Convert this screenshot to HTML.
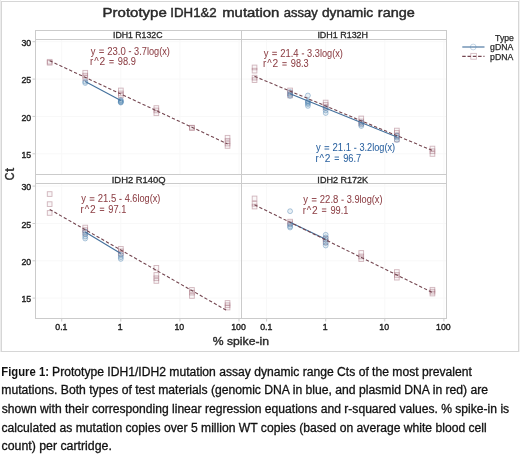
<!DOCTYPE html><html><head><meta charset="utf-8"><style>html,body{margin:0;padding:0;background:#fff;width:520px;height:456px;overflow:hidden}svg{display:block;will-change:transform}text{font-family:"Liberation Sans",sans-serif}</style></head><body>
<svg width="520" height="456" viewBox="0 0 520 456">
<rect x="0" y="0" width="520" height="456" fill="#fff"/>
<rect x="0" y="0" width="1" height="352" fill="#ececec"/><rect x="519" y="0" width="1" height="352" fill="#f2f2f2"/>
<rect x="1.5" y="1.5" width="517" height="350" fill="none" stroke="#d6d6d6" stroke-width="1"/>
<text x="102.60" y="16.80" font-size="13.2" fill="#2a2a2a" textLength="64.20" lengthAdjust="spacingAndGlyphs" stroke="#2a2a2a" stroke-width="0.45">Prototype</text>
<text x="170.31" y="16.80" font-size="13.2" fill="#2a2a2a" textLength="46.44" lengthAdjust="spacingAndGlyphs" stroke="#2a2a2a" stroke-width="0.45">IDH1&amp;2</text>
<text x="222.21" y="16.80" font-size="13.2" fill="#2a2a2a" textLength="57.11" lengthAdjust="spacingAndGlyphs" stroke="#2a2a2a" stroke-width="0.45">mutation</text>
<text x="283.78" y="16.80" font-size="13.2" fill="#2a2a2a" textLength="33.95" lengthAdjust="spacingAndGlyphs" stroke="#2a2a2a" stroke-width="0.45">assay</text>
<text x="321.95" y="16.80" font-size="13.2" fill="#2a2a2a" textLength="51.27" lengthAdjust="spacingAndGlyphs" stroke="#2a2a2a" stroke-width="0.45">dynamic</text>
<text x="377.83" y="16.80" font-size="13.2" fill="#2a2a2a" textLength="36.90" lengthAdjust="spacingAndGlyphs" stroke="#2a2a2a" stroke-width="0.45">range</text>
<line x1="61.7" y1="39.5" x2="61.7" y2="174.5" stroke="#f8f8f8" stroke-width="1"/>
<line x1="120.8" y1="39.5" x2="120.8" y2="174.5" stroke="#f8f8f8" stroke-width="1"/>
<line x1="179.9" y1="39.5" x2="179.9" y2="174.5" stroke="#f8f8f8" stroke-width="1"/>
<line x1="239.0" y1="39.5" x2="239.0" y2="174.5" stroke="#f8f8f8" stroke-width="1"/>
<line x1="35.5" y1="41.7" x2="241.5" y2="41.7" stroke="#f8f8f8" stroke-width="1"/>
<line x1="35.5" y1="79.1" x2="241.5" y2="79.1" stroke="#f8f8f8" stroke-width="1"/>
<line x1="35.5" y1="116.4" x2="241.5" y2="116.4" stroke="#f8f8f8" stroke-width="1"/>
<line x1="35.5" y1="153.8" x2="241.5" y2="153.8" stroke="#f8f8f8" stroke-width="1"/>
<line x1="61.7" y1="183.5" x2="61.7" y2="318.5" stroke="#f8f8f8" stroke-width="1"/>
<line x1="120.8" y1="183.5" x2="120.8" y2="318.5" stroke="#f8f8f8" stroke-width="1"/>
<line x1="179.9" y1="183.5" x2="179.9" y2="318.5" stroke="#f8f8f8" stroke-width="1"/>
<line x1="239.0" y1="183.5" x2="239.0" y2="318.5" stroke="#f8f8f8" stroke-width="1"/>
<line x1="35.5" y1="186.1" x2="241.5" y2="186.1" stroke="#f8f8f8" stroke-width="1"/>
<line x1="35.5" y1="223.5" x2="241.5" y2="223.5" stroke="#f8f8f8" stroke-width="1"/>
<line x1="35.5" y1="260.8" x2="241.5" y2="260.8" stroke="#f8f8f8" stroke-width="1"/>
<line x1="35.5" y1="298.1" x2="241.5" y2="298.1" stroke="#f8f8f8" stroke-width="1"/>
<line x1="266.6" y1="39.5" x2="266.6" y2="174.5" stroke="#f8f8f8" stroke-width="1"/>
<line x1="325.7" y1="39.5" x2="325.7" y2="174.5" stroke="#f8f8f8" stroke-width="1"/>
<line x1="384.8" y1="39.5" x2="384.8" y2="174.5" stroke="#f8f8f8" stroke-width="1"/>
<line x1="443.9" y1="39.5" x2="443.9" y2="174.5" stroke="#f8f8f8" stroke-width="1"/>
<line x1="241.5" y1="41.7" x2="446.5" y2="41.7" stroke="#f8f8f8" stroke-width="1"/>
<line x1="241.5" y1="79.1" x2="446.5" y2="79.1" stroke="#f8f8f8" stroke-width="1"/>
<line x1="241.5" y1="116.4" x2="446.5" y2="116.4" stroke="#f8f8f8" stroke-width="1"/>
<line x1="241.5" y1="153.8" x2="446.5" y2="153.8" stroke="#f8f8f8" stroke-width="1"/>
<line x1="266.6" y1="183.5" x2="266.6" y2="318.5" stroke="#f8f8f8" stroke-width="1"/>
<line x1="325.7" y1="183.5" x2="325.7" y2="318.5" stroke="#f8f8f8" stroke-width="1"/>
<line x1="384.8" y1="183.5" x2="384.8" y2="318.5" stroke="#f8f8f8" stroke-width="1"/>
<line x1="443.9" y1="183.5" x2="443.9" y2="318.5" stroke="#f8f8f8" stroke-width="1"/>
<line x1="241.5" y1="186.1" x2="446.5" y2="186.1" stroke="#f8f8f8" stroke-width="1"/>
<line x1="241.5" y1="223.5" x2="446.5" y2="223.5" stroke="#f8f8f8" stroke-width="1"/>
<line x1="241.5" y1="260.8" x2="446.5" y2="260.8" stroke="#f8f8f8" stroke-width="1"/>
<line x1="241.5" y1="298.1" x2="446.5" y2="298.1" stroke="#f8f8f8" stroke-width="1"/>
<rect x="35.5" y="30.5" width="411.0" height="288.0" fill="none" stroke="#cbcbcb" stroke-width="1"/>
<line x1="241.5" y1="30.5" x2="241.5" y2="318.5" stroke="#cbcbcb" stroke-width="1"/>
<line x1="35.5" y1="174.5" x2="446.5" y2="174.5" stroke="#cbcbcb" stroke-width="1"/>
<line x1="35.5" y1="39.5" x2="446.5" y2="39.5" stroke="#cbcbcb" stroke-width="1"/>
<line x1="35.5" y1="183.5" x2="446.5" y2="183.5" stroke="#cbcbcb" stroke-width="1"/>
<text x="113.02" y="38.20" font-size="8.5" fill="#2a2a2a" textLength="49.44" lengthAdjust="spacingAndGlyphs" stroke="#2a2a2a" stroke-width="0.3">IDH1 R132C</text>
<text x="317.40" y="38.20" font-size="8.5" fill="#2a2a2a" textLength="50.62" lengthAdjust="spacingAndGlyphs" stroke="#2a2a2a" stroke-width="0.3">IDH1 R132H</text>
<text x="111.75" y="182.60" font-size="8.5" fill="#2a2a2a" textLength="53.76" lengthAdjust="spacingAndGlyphs" stroke="#2a2a2a" stroke-width="0.3">IDH2 R140Q</text>
<text x="317.39" y="182.60" font-size="8.5" fill="#2a2a2a" textLength="50.75" lengthAdjust="spacingAndGlyphs" stroke="#2a2a2a" stroke-width="0.3">IDH2 R172K</text>
<line x1="32.5" y1="41.7" x2="35.5" y2="41.7" stroke="#cbcbcb" stroke-width="1"/>
<text x="21.44" y="45.80" font-size="9.4" fill="#222" textLength="9.74" lengthAdjust="spacingAndGlyphs" stroke="#222" stroke-width="0.4">30</text>
<line x1="32.5" y1="79.1" x2="35.5" y2="79.1" stroke="#cbcbcb" stroke-width="1"/>
<text x="21.44" y="83.15" font-size="9.4" fill="#222" textLength="9.74" lengthAdjust="spacingAndGlyphs" stroke="#222" stroke-width="0.4">25</text>
<line x1="32.5" y1="116.4" x2="35.5" y2="116.4" stroke="#cbcbcb" stroke-width="1"/>
<text x="21.44" y="120.50" font-size="9.4" fill="#222" textLength="9.74" lengthAdjust="spacingAndGlyphs" stroke="#222" stroke-width="0.4">20</text>
<line x1="32.5" y1="153.8" x2="35.5" y2="153.8" stroke="#cbcbcb" stroke-width="1"/>
<text x="21.44" y="157.85" font-size="9.4" fill="#222" textLength="9.74" lengthAdjust="spacingAndGlyphs" stroke="#222" stroke-width="0.4">15</text>
<line x1="32.5" y1="186.1" x2="35.5" y2="186.1" stroke="#cbcbcb" stroke-width="1"/>
<text x="21.44" y="190.20" font-size="9.4" fill="#222" textLength="9.74" lengthAdjust="spacingAndGlyphs" stroke="#222" stroke-width="0.4">30</text>
<line x1="32.5" y1="223.5" x2="35.5" y2="223.5" stroke="#cbcbcb" stroke-width="1"/>
<text x="21.44" y="227.55" font-size="9.4" fill="#222" textLength="9.74" lengthAdjust="spacingAndGlyphs" stroke="#222" stroke-width="0.4">25</text>
<line x1="32.5" y1="260.8" x2="35.5" y2="260.8" stroke="#cbcbcb" stroke-width="1"/>
<text x="21.44" y="264.90" font-size="9.4" fill="#222" textLength="9.74" lengthAdjust="spacingAndGlyphs" stroke="#222" stroke-width="0.4">20</text>
<line x1="32.5" y1="298.1" x2="35.5" y2="298.1" stroke="#cbcbcb" stroke-width="1"/>
<text x="21.44" y="302.25" font-size="9.4" fill="#222" textLength="9.74" lengthAdjust="spacingAndGlyphs" stroke="#222" stroke-width="0.4">15</text>
<line x1="61.7" y1="318.5" x2="61.7" y2="321.5" stroke="#cbcbcb" stroke-width="1"/>
<text x="55.30" y="330.20" font-size="9.4" fill="#222" textLength="12.18" lengthAdjust="spacingAndGlyphs" stroke="#222" stroke-width="0.4">0.1</text>
<line x1="120.8" y1="318.5" x2="120.8" y2="321.5" stroke="#cbcbcb" stroke-width="1"/>
<text x="117.86" y="330.20" font-size="9.4" fill="#222" textLength="4.87" lengthAdjust="spacingAndGlyphs" stroke="#222" stroke-width="0.4">1</text>
<line x1="179.9" y1="318.5" x2="179.9" y2="321.5" stroke="#cbcbcb" stroke-width="1"/>
<text x="174.46" y="330.20" font-size="9.4" fill="#222" textLength="9.74" lengthAdjust="spacingAndGlyphs" stroke="#222" stroke-width="0.4">10</text>
<line x1="239.0" y1="318.5" x2="239.0" y2="321.5" stroke="#cbcbcb" stroke-width="1"/>
<text x="231.15" y="330.20" font-size="9.4" fill="#222" textLength="14.62" lengthAdjust="spacingAndGlyphs" stroke="#222" stroke-width="0.4">100</text>
<line x1="266.6" y1="318.5" x2="266.6" y2="321.5" stroke="#cbcbcb" stroke-width="1"/>
<text x="260.20" y="330.20" font-size="9.4" fill="#222" textLength="12.18" lengthAdjust="spacingAndGlyphs" stroke="#222" stroke-width="0.4">0.1</text>
<line x1="325.7" y1="318.5" x2="325.7" y2="321.5" stroke="#cbcbcb" stroke-width="1"/>
<text x="322.76" y="330.20" font-size="9.4" fill="#222" textLength="4.87" lengthAdjust="spacingAndGlyphs" stroke="#222" stroke-width="0.4">1</text>
<line x1="384.8" y1="318.5" x2="384.8" y2="321.5" stroke="#cbcbcb" stroke-width="1"/>
<text x="379.36" y="330.20" font-size="9.4" fill="#222" textLength="9.74" lengthAdjust="spacingAndGlyphs" stroke="#222" stroke-width="0.4">10</text>
<line x1="443.9" y1="318.5" x2="443.9" y2="321.5" stroke="#cbcbcb" stroke-width="1"/>
<text x="436.05" y="330.20" font-size="9.4" fill="#222" textLength="14.62" lengthAdjust="spacingAndGlyphs" stroke="#222" stroke-width="0.4">100</text>
<text x="212.84" y="345.20" font-size="11.8" fill="#2a2a2a" textLength="56.11" lengthAdjust="spacingAndGlyphs" stroke="#2a2a2a" stroke-width="0.4">% spike-in</text>
<text transform="translate(14.10,180.24) rotate(-90)" font-size="12" fill="#2a2a2a" textLength="7.79" lengthAdjust="spacingAndGlyphs" stroke="#2a2a2a" stroke-width="0.4">C</text>
<text transform="translate(14.10,172.05) rotate(-90)" font-size="12" fill="#2a2a2a" textLength="4.12" lengthAdjust="spacingAndGlyphs" stroke="#2a2a2a" stroke-width="0.4">t</text>
<text x="495.13" y="40.60" font-size="8.4" fill="#2a2a2a" textLength="18.80" lengthAdjust="spacingAndGlyphs" stroke="#2a2a2a" stroke-width="0.25">Type</text>
<text x="490.05" y="50.10" font-size="8.4" fill="#2a2a2a" textLength="23.23" lengthAdjust="spacingAndGlyphs" stroke="#2a2a2a" stroke-width="0.25">gDNA</text>
<text x="490.08" y="59.50" font-size="8.4" fill="#2a2a2a" textLength="23.20" lengthAdjust="spacingAndGlyphs" stroke="#2a2a2a" stroke-width="0.25">pDNA</text>
<line x1="462.3" y1="47" x2="484.5" y2="47" stroke="#4f7aa3" stroke-width="1.2"/>
<circle cx="473.2" cy="47" r="2.9" fill="none" stroke="#4a80b0" stroke-opacity="0.35" stroke-width="0.9"/>
<line x1="462.2" y1="56.4" x2="484.5" y2="56.4" stroke="#744650" stroke-width="1.2" stroke-dasharray="3.5 1.8"/>
<rect x="470.8" y="53.4" width="5.6" height="5.8" fill="none" stroke="#a06878" stroke-opacity="0.45" stroke-width="0.9"/>
<rect x="47.3" y="59.4" width="4.7" height="4.7" fill="#a06878" fill-opacity="0.05" stroke="#a06878" stroke-opacity="0.48" stroke-width="0.9"/>
<rect x="47.3" y="60.4" width="4.7" height="4.7" fill="#a06878" fill-opacity="0.05" stroke="#a06878" stroke-opacity="0.48" stroke-width="0.9"/>
<rect x="82.9" y="70.4" width="4.7" height="4.7" fill="#a06878" fill-opacity="0.05" stroke="#a06878" stroke-opacity="0.48" stroke-width="0.9"/>
<rect x="82.9" y="73.3" width="4.7" height="4.7" fill="#a06878" fill-opacity="0.05" stroke="#a06878" stroke-opacity="0.48" stroke-width="0.9"/>
<rect x="82.9" y="75.7" width="4.7" height="4.7" fill="#a06878" fill-opacity="0.05" stroke="#a06878" stroke-opacity="0.48" stroke-width="0.9"/>
<rect x="118.5" y="88.1" width="4.7" height="4.7" fill="#a06878" fill-opacity="0.05" stroke="#a06878" stroke-opacity="0.48" stroke-width="0.9"/>
<rect x="118.5" y="91.1" width="4.7" height="4.7" fill="#a06878" fill-opacity="0.05" stroke="#a06878" stroke-opacity="0.48" stroke-width="0.9"/>
<rect x="118.5" y="93.1" width="4.7" height="4.7" fill="#a06878" fill-opacity="0.05" stroke="#a06878" stroke-opacity="0.48" stroke-width="0.9"/>
<rect x="154.0" y="105.7" width="4.7" height="4.7" fill="#a06878" fill-opacity="0.05" stroke="#a06878" stroke-opacity="0.48" stroke-width="0.9"/>
<rect x="154.0" y="108.1" width="4.7" height="4.7" fill="#a06878" fill-opacity="0.05" stroke="#a06878" stroke-opacity="0.48" stroke-width="0.9"/>
<rect x="154.0" y="110.9" width="4.7" height="4.7" fill="#a06878" fill-opacity="0.05" stroke="#a06878" stroke-opacity="0.48" stroke-width="0.9"/>
<rect x="189.6" y="125.3" width="4.7" height="4.7" fill="#a06878" fill-opacity="0.05" stroke="#a06878" stroke-opacity="0.48" stroke-width="0.9"/>
<rect x="189.6" y="125.6" width="4.7" height="4.7" fill="#a06878" fill-opacity="0.05" stroke="#a06878" stroke-opacity="0.48" stroke-width="0.9"/>
<rect x="225.2" y="135.4" width="4.7" height="4.7" fill="#a06878" fill-opacity="0.05" stroke="#a06878" stroke-opacity="0.48" stroke-width="0.9"/>
<rect x="225.2" y="138.6" width="4.7" height="4.7" fill="#a06878" fill-opacity="0.05" stroke="#a06878" stroke-opacity="0.48" stroke-width="0.9"/>
<rect x="225.2" y="141.2" width="4.7" height="4.7" fill="#a06878" fill-opacity="0.05" stroke="#a06878" stroke-opacity="0.48" stroke-width="0.9"/>
<rect x="225.2" y="143.6" width="4.7" height="4.7" fill="#a06878" fill-opacity="0.05" stroke="#a06878" stroke-opacity="0.48" stroke-width="0.9"/>
<circle cx="85.2" cy="81.6" r="2.45" fill="#4a80b0" fill-opacity="0.12" stroke="#4a80b0" stroke-opacity="0.48" stroke-width="0.9"/>
<circle cx="85.2" cy="83.0" r="2.45" fill="#4a80b0" fill-opacity="0.12" stroke="#4a80b0" stroke-opacity="0.48" stroke-width="0.9"/>
<circle cx="120.8" cy="100.0" r="2.45" fill="#4a80b0" fill-opacity="0.12" stroke="#4a80b0" stroke-opacity="0.48" stroke-width="0.9"/>
<circle cx="120.8" cy="100.9" r="2.45" fill="#4a80b0" fill-opacity="0.12" stroke="#4a80b0" stroke-opacity="0.48" stroke-width="0.9"/>
<circle cx="120.8" cy="101.6" r="2.45" fill="#4a80b0" fill-opacity="0.12" stroke="#4a80b0" stroke-opacity="0.48" stroke-width="0.9"/>
<circle cx="120.8" cy="102.2" r="2.45" fill="#4a80b0" fill-opacity="0.12" stroke="#4a80b0" stroke-opacity="0.48" stroke-width="0.9"/>
<circle cx="120.8" cy="102.6" r="2.45" fill="#4a80b0" fill-opacity="0.12" stroke="#4a80b0" stroke-opacity="0.48" stroke-width="0.9"/>
<line x1="85.2" y1="81.5" x2="120.8" y2="100.5" stroke="#43709c" stroke-width="1.1"/>
<line x1="49.6" y1="60.7" x2="227.5" y2="143.9" stroke="#744650" stroke-width="1.1" stroke-dasharray="3.3 2.1"/>
<rect x="252.2" y="65.1" width="4.7" height="4.7" fill="#a06878" fill-opacity="0.05" stroke="#a06878" stroke-opacity="0.48" stroke-width="0.9"/>
<rect x="252.2" y="68.3" width="4.7" height="4.7" fill="#a06878" fill-opacity="0.05" stroke="#a06878" stroke-opacity="0.48" stroke-width="0.9"/>
<rect x="252.2" y="75.3" width="4.7" height="4.7" fill="#a06878" fill-opacity="0.05" stroke="#a06878" stroke-opacity="0.48" stroke-width="0.9"/>
<rect x="252.2" y="77.8" width="4.7" height="4.7" fill="#a06878" fill-opacity="0.05" stroke="#a06878" stroke-opacity="0.48" stroke-width="0.9"/>
<rect x="287.8" y="88.1" width="4.7" height="4.7" fill="#a06878" fill-opacity="0.05" stroke="#a06878" stroke-opacity="0.48" stroke-width="0.9"/>
<rect x="287.8" y="90.7" width="4.7" height="4.7" fill="#a06878" fill-opacity="0.05" stroke="#a06878" stroke-opacity="0.48" stroke-width="0.9"/>
<rect x="287.8" y="93.1" width="4.7" height="4.7" fill="#a06878" fill-opacity="0.05" stroke="#a06878" stroke-opacity="0.48" stroke-width="0.9"/>
<rect x="323.3" y="100.2" width="4.7" height="4.7" fill="#a06878" fill-opacity="0.05" stroke="#a06878" stroke-opacity="0.48" stroke-width="0.9"/>
<rect x="323.3" y="102.6" width="4.7" height="4.7" fill="#a06878" fill-opacity="0.05" stroke="#a06878" stroke-opacity="0.48" stroke-width="0.9"/>
<rect x="323.3" y="105.1" width="4.7" height="4.7" fill="#a06878" fill-opacity="0.05" stroke="#a06878" stroke-opacity="0.48" stroke-width="0.9"/>
<rect x="358.9" y="116.1" width="4.7" height="4.7" fill="#a06878" fill-opacity="0.05" stroke="#a06878" stroke-opacity="0.48" stroke-width="0.9"/>
<rect x="358.9" y="119.1" width="4.7" height="4.7" fill="#a06878" fill-opacity="0.05" stroke="#a06878" stroke-opacity="0.48" stroke-width="0.9"/>
<rect x="358.9" y="121.1" width="4.7" height="4.7" fill="#a06878" fill-opacity="0.05" stroke="#a06878" stroke-opacity="0.48" stroke-width="0.9"/>
<rect x="394.5" y="128.2" width="4.7" height="4.7" fill="#a06878" fill-opacity="0.05" stroke="#a06878" stroke-opacity="0.48" stroke-width="0.9"/>
<rect x="394.5" y="130.6" width="4.7" height="4.7" fill="#a06878" fill-opacity="0.05" stroke="#a06878" stroke-opacity="0.48" stroke-width="0.9"/>
<rect x="394.5" y="133.6" width="4.7" height="4.7" fill="#a06878" fill-opacity="0.05" stroke="#a06878" stroke-opacity="0.48" stroke-width="0.9"/>
<rect x="394.5" y="137.1" width="4.7" height="4.7" fill="#a06878" fill-opacity="0.05" stroke="#a06878" stroke-opacity="0.48" stroke-width="0.9"/>
<rect x="430.1" y="146.2" width="4.7" height="4.7" fill="#a06878" fill-opacity="0.05" stroke="#a06878" stroke-opacity="0.48" stroke-width="0.9"/>
<rect x="430.1" y="148.9" width="4.7" height="4.7" fill="#a06878" fill-opacity="0.05" stroke="#a06878" stroke-opacity="0.48" stroke-width="0.9"/>
<rect x="430.1" y="151.6" width="4.7" height="4.7" fill="#a06878" fill-opacity="0.05" stroke="#a06878" stroke-opacity="0.48" stroke-width="0.9"/>
<circle cx="290.1" cy="92.0" r="2.45" fill="#4a80b0" fill-opacity="0.12" stroke="#4a80b0" stroke-opacity="0.48" stroke-width="0.9"/>
<circle cx="290.1" cy="94.5" r="2.45" fill="#4a80b0" fill-opacity="0.12" stroke="#4a80b0" stroke-opacity="0.48" stroke-width="0.9"/>
<circle cx="290.1" cy="96.0" r="2.45" fill="#4a80b0" fill-opacity="0.12" stroke="#4a80b0" stroke-opacity="0.48" stroke-width="0.9"/>
<circle cx="307.9" cy="95.5" r="2.45" fill="#4a80b0" fill-opacity="0.12" stroke="#4a80b0" stroke-opacity="0.48" stroke-width="0.9"/>
<circle cx="307.9" cy="101.0" r="2.45" fill="#4a80b0" fill-opacity="0.12" stroke="#4a80b0" stroke-opacity="0.48" stroke-width="0.9"/>
<circle cx="307.9" cy="101.8" r="2.45" fill="#4a80b0" fill-opacity="0.12" stroke="#4a80b0" stroke-opacity="0.48" stroke-width="0.9"/>
<circle cx="307.9" cy="103.0" r="2.45" fill="#4a80b0" fill-opacity="0.12" stroke="#4a80b0" stroke-opacity="0.48" stroke-width="0.9"/>
<circle cx="307.9" cy="104.1" r="2.45" fill="#4a80b0" fill-opacity="0.12" stroke="#4a80b0" stroke-opacity="0.48" stroke-width="0.9"/>
<circle cx="307.9" cy="105.9" r="2.45" fill="#4a80b0" fill-opacity="0.12" stroke="#4a80b0" stroke-opacity="0.48" stroke-width="0.9"/>
<circle cx="325.7" cy="108.0" r="2.45" fill="#4a80b0" fill-opacity="0.12" stroke="#4a80b0" stroke-opacity="0.48" stroke-width="0.9"/>
<circle cx="325.7" cy="110.4" r="2.45" fill="#4a80b0" fill-opacity="0.12" stroke="#4a80b0" stroke-opacity="0.48" stroke-width="0.9"/>
<circle cx="325.7" cy="113.0" r="2.45" fill="#4a80b0" fill-opacity="0.12" stroke="#4a80b0" stroke-opacity="0.48" stroke-width="0.9"/>
<circle cx="361.3" cy="122.5" r="2.45" fill="#4a80b0" fill-opacity="0.12" stroke="#4a80b0" stroke-opacity="0.48" stroke-width="0.9"/>
<circle cx="361.3" cy="124.5" r="2.45" fill="#4a80b0" fill-opacity="0.12" stroke="#4a80b0" stroke-opacity="0.48" stroke-width="0.9"/>
<circle cx="361.3" cy="126.0" r="2.45" fill="#4a80b0" fill-opacity="0.12" stroke="#4a80b0" stroke-opacity="0.48" stroke-width="0.9"/>
<circle cx="396.9" cy="135.5" r="2.45" fill="#4a80b0" fill-opacity="0.12" stroke="#4a80b0" stroke-opacity="0.48" stroke-width="0.9"/>
<circle cx="396.9" cy="137.5" r="2.45" fill="#4a80b0" fill-opacity="0.12" stroke="#4a80b0" stroke-opacity="0.48" stroke-width="0.9"/>
<circle cx="396.9" cy="140.0" r="2.45" fill="#4a80b0" fill-opacity="0.12" stroke="#4a80b0" stroke-opacity="0.48" stroke-width="0.9"/>
<line x1="290.1" y1="93.8" x2="396.9" y2="136.9" stroke="#43709c" stroke-width="1.1"/>
<line x1="254.5" y1="76.3" x2="432.4" y2="150.5" stroke="#744650" stroke-width="1.1" stroke-dasharray="3.3 2.1"/>
<rect x="47.3" y="191.7" width="4.7" height="4.7" fill="#a06878" fill-opacity="0.05" stroke="#a06878" stroke-opacity="0.48" stroke-width="0.9"/>
<rect x="47.3" y="201.8" width="4.7" height="4.7" fill="#a06878" fill-opacity="0.05" stroke="#a06878" stroke-opacity="0.48" stroke-width="0.9"/>
<rect x="47.3" y="210.6" width="4.7" height="4.7" fill="#a06878" fill-opacity="0.05" stroke="#a06878" stroke-opacity="0.48" stroke-width="0.9"/>
<rect x="82.9" y="225.2" width="4.7" height="4.7" fill="#a06878" fill-opacity="0.05" stroke="#a06878" stroke-opacity="0.48" stroke-width="0.9"/>
<rect x="82.9" y="227.8" width="4.7" height="4.7" fill="#a06878" fill-opacity="0.05" stroke="#a06878" stroke-opacity="0.48" stroke-width="0.9"/>
<rect x="82.9" y="230.4" width="4.7" height="4.7" fill="#a06878" fill-opacity="0.05" stroke="#a06878" stroke-opacity="0.48" stroke-width="0.9"/>
<rect x="118.5" y="246.5" width="4.7" height="4.7" fill="#a06878" fill-opacity="0.05" stroke="#a06878" stroke-opacity="0.48" stroke-width="0.9"/>
<rect x="118.5" y="249.0" width="4.7" height="4.7" fill="#a06878" fill-opacity="0.05" stroke="#a06878" stroke-opacity="0.48" stroke-width="0.9"/>
<rect x="118.5" y="251.2" width="4.7" height="4.7" fill="#a06878" fill-opacity="0.05" stroke="#a06878" stroke-opacity="0.48" stroke-width="0.9"/>
<rect x="154.0" y="265.5" width="4.7" height="4.7" fill="#a06878" fill-opacity="0.05" stroke="#a06878" stroke-opacity="0.48" stroke-width="0.9"/>
<rect x="154.0" y="272.6" width="4.7" height="4.7" fill="#a06878" fill-opacity="0.05" stroke="#a06878" stroke-opacity="0.48" stroke-width="0.9"/>
<rect x="154.0" y="275.9" width="4.7" height="4.7" fill="#a06878" fill-opacity="0.05" stroke="#a06878" stroke-opacity="0.48" stroke-width="0.9"/>
<rect x="154.0" y="278.6" width="4.7" height="4.7" fill="#a06878" fill-opacity="0.05" stroke="#a06878" stroke-opacity="0.48" stroke-width="0.9"/>
<rect x="189.6" y="287.6" width="4.7" height="4.7" fill="#a06878" fill-opacity="0.05" stroke="#a06878" stroke-opacity="0.48" stroke-width="0.9"/>
<rect x="189.6" y="290.3" width="4.7" height="4.7" fill="#a06878" fill-opacity="0.05" stroke="#a06878" stroke-opacity="0.48" stroke-width="0.9"/>
<rect x="189.6" y="293.6" width="4.7" height="4.7" fill="#a06878" fill-opacity="0.05" stroke="#a06878" stroke-opacity="0.48" stroke-width="0.9"/>
<rect x="225.2" y="300.6" width="4.7" height="4.7" fill="#a06878" fill-opacity="0.05" stroke="#a06878" stroke-opacity="0.48" stroke-width="0.9"/>
<rect x="225.2" y="302.9" width="4.7" height="4.7" fill="#a06878" fill-opacity="0.05" stroke="#a06878" stroke-opacity="0.48" stroke-width="0.9"/>
<rect x="225.2" y="305.2" width="4.7" height="4.7" fill="#a06878" fill-opacity="0.05" stroke="#a06878" stroke-opacity="0.48" stroke-width="0.9"/>
<circle cx="85.2" cy="231.5" r="2.45" fill="#4a80b0" fill-opacity="0.12" stroke="#4a80b0" stroke-opacity="0.48" stroke-width="0.9"/>
<circle cx="85.2" cy="234.1" r="2.45" fill="#4a80b0" fill-opacity="0.12" stroke="#4a80b0" stroke-opacity="0.48" stroke-width="0.9"/>
<circle cx="85.2" cy="236.5" r="2.45" fill="#4a80b0" fill-opacity="0.12" stroke="#4a80b0" stroke-opacity="0.48" stroke-width="0.9"/>
<circle cx="85.2" cy="238.5" r="2.45" fill="#4a80b0" fill-opacity="0.12" stroke="#4a80b0" stroke-opacity="0.48" stroke-width="0.9"/>
<circle cx="120.8" cy="254.8" r="2.45" fill="#4a80b0" fill-opacity="0.12" stroke="#4a80b0" stroke-opacity="0.48" stroke-width="0.9"/>
<circle cx="120.8" cy="257.1" r="2.45" fill="#4a80b0" fill-opacity="0.12" stroke="#4a80b0" stroke-opacity="0.48" stroke-width="0.9"/>
<circle cx="120.8" cy="258.9" r="2.45" fill="#4a80b0" fill-opacity="0.12" stroke="#4a80b0" stroke-opacity="0.48" stroke-width="0.9"/>
<line x1="85.2" y1="232.0" x2="120.8" y2="253.5" stroke="#43709c" stroke-width="1.1"/>
<line x1="49.7" y1="209.4" x2="227.5" y2="310.9" stroke="#744650" stroke-width="1.1" stroke-dasharray="3.3 2.1"/>
<rect x="252.2" y="196.1" width="4.7" height="4.7" fill="#a06878" fill-opacity="0.05" stroke="#a06878" stroke-opacity="0.48" stroke-width="0.9"/>
<rect x="252.2" y="201.4" width="4.7" height="4.7" fill="#a06878" fill-opacity="0.05" stroke="#a06878" stroke-opacity="0.48" stroke-width="0.9"/>
<rect x="252.2" y="204.2" width="4.7" height="4.7" fill="#a06878" fill-opacity="0.05" stroke="#a06878" stroke-opacity="0.48" stroke-width="0.9"/>
<rect x="287.8" y="219.3" width="4.7" height="4.7" fill="#a06878" fill-opacity="0.05" stroke="#a06878" stroke-opacity="0.48" stroke-width="0.9"/>
<rect x="287.8" y="221.1" width="4.7" height="4.7" fill="#a06878" fill-opacity="0.05" stroke="#a06878" stroke-opacity="0.48" stroke-width="0.9"/>
<rect x="323.3" y="236.6" width="4.7" height="4.7" fill="#a06878" fill-opacity="0.05" stroke="#a06878" stroke-opacity="0.48" stroke-width="0.9"/>
<rect x="323.3" y="239.6" width="4.7" height="4.7" fill="#a06878" fill-opacity="0.05" stroke="#a06878" stroke-opacity="0.48" stroke-width="0.9"/>
<rect x="358.9" y="250.6" width="4.7" height="4.7" fill="#a06878" fill-opacity="0.05" stroke="#a06878" stroke-opacity="0.48" stroke-width="0.9"/>
<rect x="358.9" y="254.1" width="4.7" height="4.7" fill="#a06878" fill-opacity="0.05" stroke="#a06878" stroke-opacity="0.48" stroke-width="0.9"/>
<rect x="358.9" y="256.7" width="4.7" height="4.7" fill="#a06878" fill-opacity="0.05" stroke="#a06878" stroke-opacity="0.48" stroke-width="0.9"/>
<rect x="394.5" y="269.7" width="4.7" height="4.7" fill="#a06878" fill-opacity="0.05" stroke="#a06878" stroke-opacity="0.48" stroke-width="0.9"/>
<rect x="394.5" y="272.6" width="4.7" height="4.7" fill="#a06878" fill-opacity="0.05" stroke="#a06878" stroke-opacity="0.48" stroke-width="0.9"/>
<rect x="394.5" y="275.3" width="4.7" height="4.7" fill="#a06878" fill-opacity="0.05" stroke="#a06878" stroke-opacity="0.48" stroke-width="0.9"/>
<rect x="430.1" y="287.4" width="4.7" height="4.7" fill="#a06878" fill-opacity="0.05" stroke="#a06878" stroke-opacity="0.48" stroke-width="0.9"/>
<rect x="430.1" y="289.3" width="4.7" height="4.7" fill="#a06878" fill-opacity="0.05" stroke="#a06878" stroke-opacity="0.48" stroke-width="0.9"/>
<rect x="430.1" y="291.2" width="4.7" height="4.7" fill="#a06878" fill-opacity="0.05" stroke="#a06878" stroke-opacity="0.48" stroke-width="0.9"/>
<circle cx="290.1" cy="211.2" r="2.45" fill="#4a80b0" fill-opacity="0.12" stroke="#4a80b0" stroke-opacity="0.48" stroke-width="0.9"/>
<circle cx="290.1" cy="224.4" r="2.45" fill="#4a80b0" fill-opacity="0.12" stroke="#4a80b0" stroke-opacity="0.48" stroke-width="0.9"/>
<circle cx="290.1" cy="226.4" r="2.45" fill="#4a80b0" fill-opacity="0.12" stroke="#4a80b0" stroke-opacity="0.48" stroke-width="0.9"/>
<circle cx="290.1" cy="227.5" r="2.45" fill="#4a80b0" fill-opacity="0.12" stroke="#4a80b0" stroke-opacity="0.48" stroke-width="0.9"/>
<circle cx="325.7" cy="234.8" r="2.45" fill="#4a80b0" fill-opacity="0.12" stroke="#4a80b0" stroke-opacity="0.48" stroke-width="0.9"/>
<circle cx="325.7" cy="237.5" r="2.45" fill="#4a80b0" fill-opacity="0.12" stroke="#4a80b0" stroke-opacity="0.48" stroke-width="0.9"/>
<circle cx="325.7" cy="240.0" r="2.45" fill="#4a80b0" fill-opacity="0.12" stroke="#4a80b0" stroke-opacity="0.48" stroke-width="0.9"/>
<circle cx="325.7" cy="243.0" r="2.45" fill="#4a80b0" fill-opacity="0.12" stroke="#4a80b0" stroke-opacity="0.48" stroke-width="0.9"/>
<circle cx="325.7" cy="245.5" r="2.45" fill="#4a80b0" fill-opacity="0.12" stroke="#4a80b0" stroke-opacity="0.48" stroke-width="0.9"/>
<line x1="290.1" y1="222.3" x2="325.7" y2="239.2" stroke="#43709c" stroke-width="1.1"/>
<line x1="254.5" y1="204.8" x2="432.4" y2="292.5" stroke="#744650" stroke-width="1.1" stroke-dasharray="3.3 2.1"/>
<text x="90.70" y="54.60" font-size="10.3" fill="#8c3e44" textLength="4.70" lengthAdjust="spacingAndGlyphs" stroke="#8c3e44" stroke-width="0.05">y</text>
<rect x="99.20" y="49.60" width="4.70" height="0.9" fill="#8c3e44"/><rect x="99.20" y="52.00" width="4.70" height="0.9" fill="#8c3e44"/>
<text x="107.22" y="54.60" font-size="10.3" fill="#8c3e44" textLength="18.52" lengthAdjust="spacingAndGlyphs" stroke="#8c3e44" stroke-width="0.05">23.0</text>
<rect x="128.80" y="51.20" width="2.30" height="0.95" fill="#8c3e44"/>
<text x="134.12" y="54.60" font-size="10.3" fill="#8c3e44" textLength="35.74" lengthAdjust="spacingAndGlyphs" stroke="#8c3e44" stroke-width="0.05">3.7log(x)</text>
<text x="90.12" y="65.00" font-size="10.3" fill="#8c3e44" textLength="3.20" lengthAdjust="spacingAndGlyphs" stroke="#8c3e44" stroke-width="0.05">r</text>
<text x="94.20" y="65.00" font-size="10.3" fill="#8c3e44" textLength="4.49" lengthAdjust="spacingAndGlyphs" stroke="#8c3e44" stroke-width="0.05">^</text>
<text x="99.49" y="65.00" font-size="10.3" fill="#8c3e44" textLength="5.68" lengthAdjust="spacingAndGlyphs" stroke="#8c3e44" stroke-width="0.05">2</text>
<rect x="109.30" y="60.00" width="4.40" height="0.9" fill="#8c3e44"/><rect x="109.30" y="62.40" width="4.40" height="0.9" fill="#8c3e44"/>
<text x="117.83" y="65.00" font-size="10.3" fill="#8c3e44" textLength="18.00" lengthAdjust="spacingAndGlyphs" stroke="#8c3e44" stroke-width="0.05">98.9</text>
<text x="263.70" y="56.80" font-size="10.3" fill="#8c3e44" textLength="4.70" lengthAdjust="spacingAndGlyphs" stroke="#8c3e44" stroke-width="0.05">y</text>
<rect x="272.20" y="51.80" width="4.70" height="0.9" fill="#8c3e44"/><rect x="272.20" y="54.20" width="4.70" height="0.9" fill="#8c3e44"/>
<text x="280.23" y="56.80" font-size="10.3" fill="#8c3e44" textLength="18.42" lengthAdjust="spacingAndGlyphs" stroke="#8c3e44" stroke-width="0.05">21.4</text>
<rect x="301.80" y="53.40" width="2.30" height="0.95" fill="#8c3e44"/>
<text x="307.12" y="56.80" font-size="10.3" fill="#8c3e44" textLength="35.74" lengthAdjust="spacingAndGlyphs" stroke="#8c3e44" stroke-width="0.05">3.3log(x)</text>
<text x="263.12" y="67.20" font-size="10.3" fill="#8c3e44" textLength="3.20" lengthAdjust="spacingAndGlyphs" stroke="#8c3e44" stroke-width="0.05">r</text>
<text x="267.20" y="67.20" font-size="10.3" fill="#8c3e44" textLength="4.49" lengthAdjust="spacingAndGlyphs" stroke="#8c3e44" stroke-width="0.05">^</text>
<text x="272.49" y="67.20" font-size="10.3" fill="#8c3e44" textLength="5.68" lengthAdjust="spacingAndGlyphs" stroke="#8c3e44" stroke-width="0.05">2</text>
<rect x="282.30" y="62.20" width="4.40" height="0.9" fill="#8c3e44"/><rect x="282.30" y="64.60" width="4.40" height="0.9" fill="#8c3e44"/>
<text x="290.83" y="67.20" font-size="10.3" fill="#8c3e44" textLength="17.90" lengthAdjust="spacingAndGlyphs" stroke="#8c3e44" stroke-width="0.05">98.3</text>
<text x="316.00" y="151.20" font-size="10.3" fill="#2b62a0" textLength="4.70" lengthAdjust="spacingAndGlyphs" stroke="#2b62a0" stroke-width="0.05">y</text>
<rect x="324.50" y="146.20" width="4.70" height="0.9" fill="#2b62a0"/><rect x="324.50" y="148.60" width="4.70" height="0.9" fill="#2b62a0"/>
<text x="332.52" y="151.20" font-size="10.3" fill="#2b62a0" textLength="18.62" lengthAdjust="spacingAndGlyphs" stroke="#2b62a0" stroke-width="0.05">21.1</text>
<rect x="354.10" y="147.80" width="2.30" height="0.95" fill="#2b62a0"/>
<text x="359.42" y="151.20" font-size="10.3" fill="#2b62a0" textLength="35.74" lengthAdjust="spacingAndGlyphs" stroke="#2b62a0" stroke-width="0.05">3.2log(x)</text>
<text x="315.42" y="161.60" font-size="10.3" fill="#2b62a0" textLength="3.20" lengthAdjust="spacingAndGlyphs" stroke="#2b62a0" stroke-width="0.05">r</text>
<text x="319.50" y="161.60" font-size="10.3" fill="#2b62a0" textLength="4.49" lengthAdjust="spacingAndGlyphs" stroke="#2b62a0" stroke-width="0.05">^</text>
<text x="324.79" y="161.60" font-size="10.3" fill="#2b62a0" textLength="5.68" lengthAdjust="spacingAndGlyphs" stroke="#2b62a0" stroke-width="0.05">2</text>
<rect x="334.60" y="156.60" width="4.40" height="0.9" fill="#2b62a0"/><rect x="334.60" y="159.00" width="4.40" height="0.9" fill="#2b62a0"/>
<text x="343.13" y="161.60" font-size="10.3" fill="#2b62a0" textLength="18.00" lengthAdjust="spacingAndGlyphs" stroke="#2b62a0" stroke-width="0.05">96.7</text>
<text x="81.20" y="202.30" font-size="10.3" fill="#8c3e44" textLength="4.70" lengthAdjust="spacingAndGlyphs" stroke="#8c3e44" stroke-width="0.05">y</text>
<rect x="89.70" y="197.30" width="4.70" height="0.9" fill="#8c3e44"/><rect x="89.70" y="199.70" width="4.70" height="0.9" fill="#8c3e44"/>
<text x="97.72" y="202.30" font-size="10.3" fill="#8c3e44" textLength="18.52" lengthAdjust="spacingAndGlyphs" stroke="#8c3e44" stroke-width="0.05">21.5</text>
<rect x="119.30" y="198.90" width="2.30" height="0.95" fill="#8c3e44"/>
<text x="124.72" y="202.30" font-size="10.3" fill="#8c3e44" textLength="35.64" lengthAdjust="spacingAndGlyphs" stroke="#8c3e44" stroke-width="0.05">4.6log(x)</text>
<text x="80.62" y="212.70" font-size="10.3" fill="#8c3e44" textLength="3.20" lengthAdjust="spacingAndGlyphs" stroke="#8c3e44" stroke-width="0.05">r</text>
<text x="84.70" y="212.70" font-size="10.3" fill="#8c3e44" textLength="4.49" lengthAdjust="spacingAndGlyphs" stroke="#8c3e44" stroke-width="0.05">^</text>
<text x="89.99" y="212.70" font-size="10.3" fill="#8c3e44" textLength="5.68" lengthAdjust="spacingAndGlyphs" stroke="#8c3e44" stroke-width="0.05">2</text>
<rect x="99.80" y="207.70" width="4.40" height="0.9" fill="#8c3e44"/><rect x="99.80" y="210.10" width="4.40" height="0.9" fill="#8c3e44"/>
<text x="108.33" y="212.70" font-size="10.3" fill="#8c3e44" textLength="18.00" lengthAdjust="spacingAndGlyphs" stroke="#8c3e44" stroke-width="0.05">97.1</text>
<text x="303.30" y="203.10" font-size="10.3" fill="#8c3e44" textLength="4.70" lengthAdjust="spacingAndGlyphs" stroke="#8c3e44" stroke-width="0.05">y</text>
<rect x="311.80" y="198.10" width="4.70" height="0.9" fill="#8c3e44"/><rect x="311.80" y="200.50" width="4.70" height="0.9" fill="#8c3e44"/>
<text x="319.82" y="203.10" font-size="10.3" fill="#8c3e44" textLength="18.52" lengthAdjust="spacingAndGlyphs" stroke="#8c3e44" stroke-width="0.05">22.8</text>
<rect x="341.40" y="199.70" width="2.30" height="0.95" fill="#8c3e44"/>
<text x="346.72" y="203.10" font-size="10.3" fill="#8c3e44" textLength="35.74" lengthAdjust="spacingAndGlyphs" stroke="#8c3e44" stroke-width="0.05">3.9log(x)</text>
<text x="302.72" y="213.50" font-size="10.3" fill="#8c3e44" textLength="3.20" lengthAdjust="spacingAndGlyphs" stroke="#8c3e44" stroke-width="0.05">r</text>
<text x="306.80" y="213.50" font-size="10.3" fill="#8c3e44" textLength="4.49" lengthAdjust="spacingAndGlyphs" stroke="#8c3e44" stroke-width="0.05">^</text>
<text x="312.09" y="213.50" font-size="10.3" fill="#8c3e44" textLength="5.68" lengthAdjust="spacingAndGlyphs" stroke="#8c3e44" stroke-width="0.05">2</text>
<rect x="321.90" y="208.50" width="4.40" height="0.9" fill="#8c3e44"/><rect x="321.90" y="210.90" width="4.40" height="0.9" fill="#8c3e44"/>
<text x="330.43" y="213.50" font-size="10.3" fill="#8c3e44" textLength="18.00" lengthAdjust="spacingAndGlyphs" stroke="#8c3e44" stroke-width="0.05">99.1</text>
<text x="1.32" y="375.80" font-size="12.0" font-weight="bold" fill="#111" textLength="47.62" lengthAdjust="spacingAndGlyphs">Figure 1:</text>
<text x="52.13" y="375.80" font-size="12.0" fill="#111" textLength="419.71" lengthAdjust="spacingAndGlyphs" stroke="#111" stroke-width="0.3">Prototype IDH1/IDH2 mutation assay dynamic range Cts of the most prevalent</text>
<text x="1.27" y="394.40" font-size="12.0" fill="#111" textLength="486.87" lengthAdjust="spacingAndGlyphs" stroke="#111" stroke-width="0.3">mutations. Both types of test materials (genomic DNA in blue, and plasmid DNA in red) are</text>
<text x="1.76" y="413.00" font-size="12.0" fill="#111" textLength="507.38" lengthAdjust="spacingAndGlyphs" stroke="#111" stroke-width="0.3">shown with their corresponding linear regression equations and r-squared values. % spike-in is</text>
<text x="1.51" y="431.60" font-size="12.0" fill="#111" textLength="485.22" lengthAdjust="spacingAndGlyphs" stroke="#111" stroke-width="0.3">calculated as mutation copies over 5 million WT copies (based on average white blood cell</text>
<text x="1.51" y="450.20" font-size="12.0" fill="#111" textLength="110.33" lengthAdjust="spacingAndGlyphs" stroke="#111" stroke-width="0.3">count) per cartridge.</text>
</svg></body></html>
